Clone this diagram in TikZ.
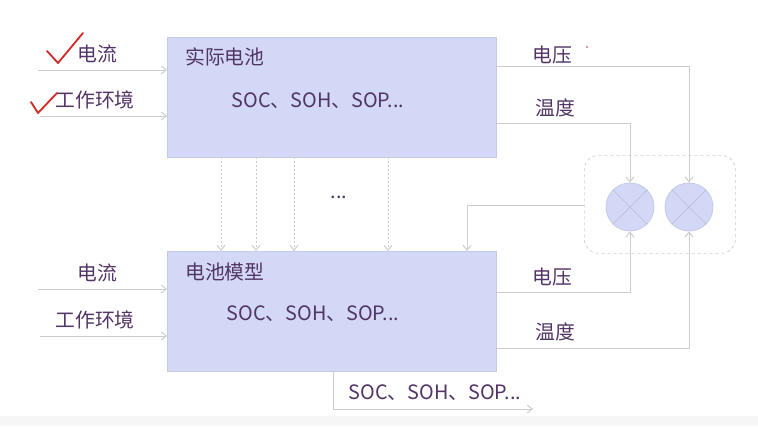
\documentclass[tikz,border=0pt]{standalone}
\usepackage{fontspec}
\setmainfont{Noto Sans CJK SC}
\usetikzlibrary{arrows.meta}
\definecolor{boxfill}{RGB}{210,216,245}
\definecolor{boxdraw}{RGB}{196,202,232}
\definecolor{txt}{RGB}{82,52,102}
\definecolor{ln}{RGB}{205,205,208}
\definecolor{chk}{RGB}{215,40,40}
\tikzset{
  block/.style={draw=boxdraw, fill=boxfill, line width=0.8pt},
  lbl/.style={text=txt, font=\fontsize{19.8}{22}\selectfont, inner sep=0pt},
  wire/.style={draw=ln, line width=1pt},
  arr/.style={wire, -{Straight Barb[length=5pt,width=8pt]}},
  dotarr/.style={draw=ln, line width=1pt, dash pattern=on 2pt off 2pt, -{Straight Barb[length=5pt,width=8pt]}},
  mixer/.style={circle, draw=boxdraw, fill=boxfill, minimum size=48pt, inner sep=0pt, line width=0.8pt},
  check/.style={draw=chk, line width=1.8pt, line join=round, line cap=round}
}
\begin{document}
\begin{tikzpicture}[x=1pt,y=-1pt]
\useasboundingbox (0,0) rectangle (758,426);
\fill[white] (0,0) rectangle (758,426);
\fill[gray!7] (0,416) rectangle (758,426);
% blocks
\node[block, minimum width=329pt, minimum height=120pt, anchor=north west] (real) at (167,37) {};
\node[block, minimum width=329pt, minimum height=120pt, anchor=north west] (model) at (167,251) {};
\node[lbl, anchor=west] (realt) at (185,57) {实际电池};
\node[lbl, anchor=center] (reals) at (318,101) {SOC、SOH、SOP...};
\node[lbl, anchor=west] (modelt) at (185,272) {电池模型};
\node[lbl, anchor=center] (models) at (313,314) {SOC、SOH、SOP...};
% inputs
\coordinate (i1) at (38,70);
\coordinate (i2) at (40,116);
\coordinate (i3) at (38,289);
\coordinate (i4) at (40,336);
\draw[arr] (i1) -- (i1 -| real.west);
\draw[arr] (i2) -- (i2 -| real.west);
\draw[arr] (i3) -- (i3 -| model.west);
\draw[arr] (i4) -- (i4 -| model.west);
\node[lbl] (l1) at (97,54) {电流};
\node[lbl] (l2) at (95,100) {工作环境};
\node[lbl] (l3) at (97,273) {电流};
\node[lbl] (l4) at (95,320) {工作环境};
% checks
\draw[check] (47,51) -- (58,63) -- (83,33);
\draw[check] (31,102) -- (38,113) -- (57,93);
% mixers
\node[draw=ln, dashed, rounded corners=14pt, minimum width=151pt, minimum height=98pt, anchor=north west, line width=0.7pt] (grp) at (584,155) {};
\node[mixer] (m1) at (630,207) {};
\node[mixer] (m2) at (689,207) {};
\draw[draw=boxdraw!85!gray, line width=0.7pt] (m1.north west) -- (m1.south east) (m1.north east) -- (m1.south west);
\draw[draw=boxdraw!85!gray, line width=0.7pt] (m2.north west) -- (m2.south east) (m2.north east) -- (m2.south west);
% top outputs
\coordinate (o1) at (496,66);
\coordinate (o2) at (496,123);
\draw[arr] (o1) -| (m2.north);
\draw[arr] (o2) -| (m1.north);
\node[lbl] (vt) at (552,55) {电压};
\node[lbl] (tt) at (555,108) {温度};
\fill[chk] (587,47) circle (0.8pt);
% bottom outputs
\coordinate (o3) at (496,292);
\coordinate (o4) at (496,348);
\draw[arr] (o3) -| (m1.south);
\draw[arr] (o4) -| (m2.south);
\node[lbl] (vb) at (552,277) {电压};
\node[lbl] (tb) at (555,332) {温度};
% feedback
\coordinate (fb) at (467,205);
\draw[arr] (grp.west |- fb) -- (fb) -- (fb |- model.north);
% dotted
\foreach \x in {221,256,294,388} {
  \draw[dotarr] (\x,157) -- (\x,251);
}
\node[lbl] (dots) at (339,197) {...};
% output
\coordinate (ob) at (333,409);
\coordinate (oe) at (533,409);
\draw[arr] (ob |- model.south) -- (ob) -- (oe);
\node[lbl] (outs) at (435,393) {SOC、SOH、SOP...};
\end{tikzpicture}
\end{document}
